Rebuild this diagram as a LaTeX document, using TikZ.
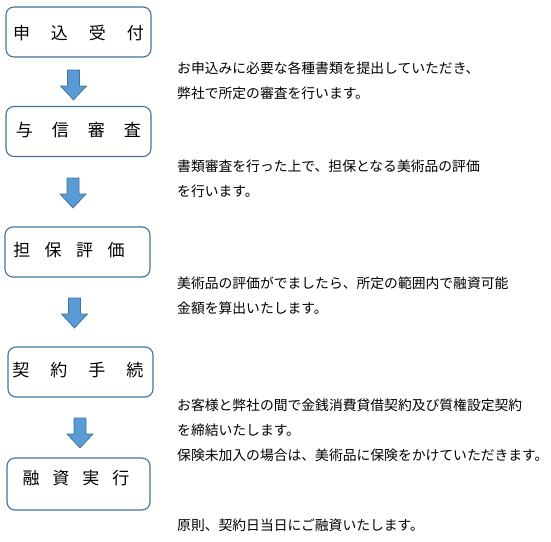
\documentclass[tikz,border=0pt]{standalone}
\usepackage{fontspec}
\setmainfont{Noto Sans CJK JP}
\usetikzlibrary{positioning}
\definecolor{boxline}{HTML}{41719C}
\definecolor{arrowfill}{HTML}{5B9BD5}
\tikzset{
	stepbox/.style={draw=boxline, line width=1.1pt, rounded corners=8pt, minimum width=145pt, minimum height=50pt, inner sep=0pt},
	steplabel/.style={inner sep=0pt, font=\fontsize{17}{20}\selectfont},
	note/.style={anchor=north west, inner sep=0pt, align=left, font=\fontsize{13.8}{25}\selectfont},
	downarrow/.pic={\draw[draw=boxline, fill=arrowfill, line width=0.7pt] (-6,0) -- (6,0) -- (6,16) -- (13,16) -- (0,30) -- (-13,16) -- (-6,16) -- cycle;}
}
\begin{document}
\begin{tikzpicture}[x=1pt,y=-1pt]
				\useasboundingbox (0,0) rectangle (551,541);
				\node[stepbox] (b1) at (78.5,32) {};
				\node[stepbox] (b2) at (78.5,131.5) {};
				\node[stepbox] (b3) at (77.5,252) {};
				\node[stepbox] (b4) at (80.5,372) {};
				\node[stepbox, minimum width=143pt, minimum height=52pt] (b5) at (78.5,484) {};
				\node[steplabel] (l1) at (78.5,33) {申\hspace{21pt}込\hspace{21pt}受\hspace{21pt}付};
				\node[steplabel] (l2) at (78.5,130) {与\hspace{19pt}信\hspace{19pt}審\hspace{19pt}査};
				\node[steplabel] (l3) at (69,250) {担\hspace{14.5pt}保\hspace{14.5pt}評\hspace{14.5pt}価};
				\node[steplabel] (l4) at (78,370) {契\hspace{21pt}約\hspace{21pt}手\hspace{21pt}続};
				\node[steplabel] (l5) at (76,478) {融\hspace{13pt}資\hspace{13pt}実\hspace{13pt}行};
				\pic at (73.5,70) {downarrow};
				\pic at (73,178) {downarrow};
				\pic at (74.5,298) {downarrow};
				\pic at (80,418) {downarrow};
				\node[note] (t1) at (177,62) {お申込みに必要な各種書類を提出していただき、\\弊社で所定の審査を行います。};
				\node[note] (t2) at (177,160) {書類審査を行った上で、担保となる美術品の評価\\を行います。};
				\node[note] (t3) at (177,277) {美術品の評価がでましたら、所定の範囲内で融資可能\\金額を算出いたします。};
				\node[note] (t4) at (177,399) {お客様と弊社の間で金銭消費貸借契約及び質権設定契約\\を締結いたします。\\保険未加入の場合は、美術品に保険をかけていただきます。};
				\node[note] (t5) at (177,519) {原則、契約日当日にご融資いたします。};
			\end{tikzpicture}
\end{document}
